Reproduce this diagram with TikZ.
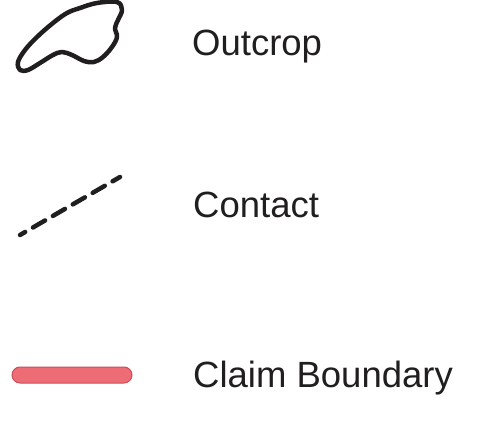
\documentclass[tikz,border=0pt]{standalone}
\usepackage{fontspec}
\setmainfont{Liberation Sans}
\usepackage{xcolor}
\usepackage{tikz}
\usetikzlibrary{positioning}

\definecolor{inkdark}{RGB}{32,30,30}
\definecolor{claimfill}{RGB}{238,108,118}
\definecolor{claimedge}{RGB}{200,78,92}

\begin{document}
\begin{tikzpicture}[
    x=1pt, y=-1pt,
    every node/.style={font=\fontsize{36.5}{40}\selectfont, text=inkdark, inner sep=0pt},
    label/.style={anchor=base west},
    outcropline/.style={draw=inkdark, line width=4.5pt, line join=round},
    contactline/.style={draw=inkdark, line width=4.5pt, line cap=round, dash pattern=on 14pt off 9pt, dash phase=8pt},
    claimline/.style={fill=claimfill, draw=claimedge, line width=1pt, rounded corners=8pt}
]
    \useasboundingbox (0,0) rectangle (484,422);

    % outcrop symbol
    \draw[outcropline] plot[smooth cycle, tension=0.6] coordinates {
        (97,3) (117,2) (122,10) (118,20) (115,28) (117,37) (112,47) (103,57)
        (94,62) (84,61) (72,55) (62,52) (53,55) (40,63) (28,70) (20,70)
        (18,62) (25,50) (37,37) (53,23) (67,13) (80,8)};
    \node[label] (outcrop) at (192,56) {Outcrop};

    % contact symbol
    \coordinate (contactA) at (20,235);
    \coordinate (contactB) at (120,177);
    \draw[contactline] (contactA) -- (contactB);
    \node[label] (contact) at (193,217) {Contact};

    % claim boundary symbol
    \draw[claimline] (12,367) rectangle (132,383);
    \node[label] (claim) at (193,387) {Claim Boundary};
\end{tikzpicture}
\end{document}
